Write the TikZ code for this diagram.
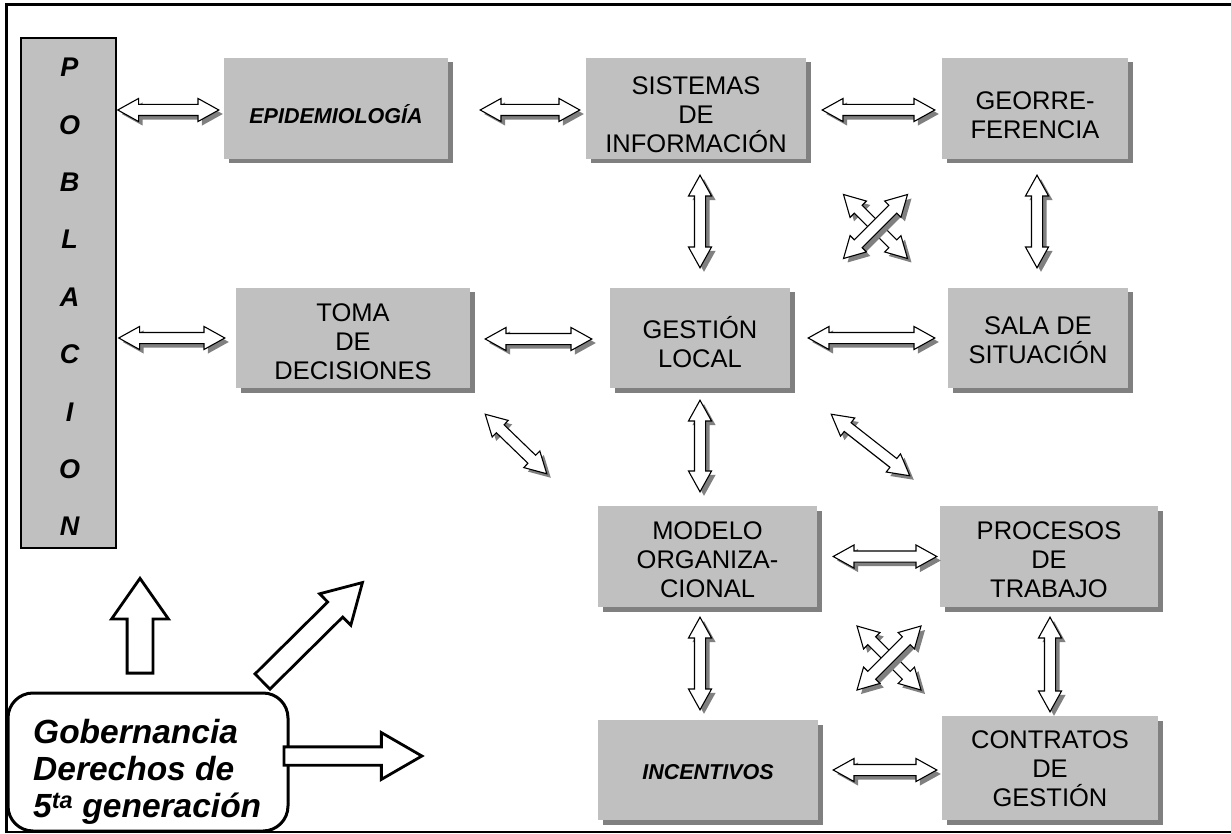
\documentclass[tikz,border=0pt]{standalone}
\usepackage{fontspec}
\setmainfont{Liberation Sans}
\usetikzlibrary{shapes.arrows,shadows,calc}
\definecolor{boxgray}{HTML}{C0C0C0}
\definecolor{shadowgray}{HTML}{808080}
\tikzset{
  box/.style={fill=boxgray, inner sep=0pt,
    drop shadow={shadow xshift=4.5pt, shadow yshift=-4.5pt, fill=shadowgray, opacity=1}},
  btext/.style={align=center, inner sep=0pt, font=\fontsize{25.5}{29}\selectfont},
  bitext/.style={btext, font=\fontsize{21.5}{26}\selectfont\bfseries\itshape},
  dblarrow/.style={double arrow, draw=black, line width=1.1pt, fill=white,
    inner xsep=0pt, inner ysep=5pt, minimum width=22pt,
    double arrow head extend=6pt, double arrow tip angle=58,
    double arrow head indent=0pt},
  dblshadow/.style={dblarrow, draw=none, fill=shadowgray},
  bigarrow/.style={single arrow, draw=black, line width=2.8pt, fill=white,
    inner xsep=0pt, single arrow head indent=0pt, anchor=tail},
  frameline/.style={line width=3pt},
}
\newcommand\dbl[2]{%
  \path let \p1=(#1), \p2=(#2),
     \n1={atan2(\y2-\y1,\x2-\x1)}, \n2={veclen(\x2-\x1,\y2-\y1)} in
    node[dblshadow, minimum height=\n2, rotate=\n1] at ($(\p1)!0.5!(\p2)+(4pt,-4pt)$) {}
    node[dblarrow, minimum height=\n2, rotate=\n1] at ($(\p1)!0.5!(\p2)$) {};
}
\newcommand\bigarr[5]{%
  \path let \p1=(#1), \p2=(#2),
     \n1={atan2(\y2-\y1,\x2-\x1)}, \n2={veclen(\x2-\x1,\y2-\y1)} in
    node[bigarrow, minimum height=\n2, rotate=\n1, inner ysep=#3,
      single arrow head extend=#4, single arrow tip angle=#5] at (\p1) {};
}
\begin{document}
\begin{tikzpicture}[x=1pt,y=-1pt]
\useasboundingbox (0,0) rectangle (1231,834);
\fill[white] (0,0) rectangle (1231,834);
% frame
\draw[frameline] (6.5,833) -- (6.5,4.5) -- (1235,4.5);
\draw[line width=1.5pt] (6.5,832) -- (1235,832);
% boxes
\node[fill=boxgray, draw=black, line width=1.5pt, minimum width=95pt, minimum height=510pt,
  inner sep=0pt] (pob) at (68.5,293) {};
\node[align=center, inner sep=0pt, font=\fontsize{27}{57.4}\selectfont\bfseries\itshape]
  (pob-t) at ($(pob)+(1,4)$) {P\\O\\B\\L\\A\\C\\I\\O\\N};
\node[box, minimum width=224pt, minimum height=101pt] (epi) at (336,108.5) {};
\node[box, minimum width=220pt, minimum height=101pt] (sis) at (696,108.5) {};
\node[box, minimum width=186pt, minimum height=101pt] (geo) at (1035,108.5) {};
\node[box, minimum width=234pt, minimum height=100pt] (toma) at (353,338) {};
\node[box, minimum width=180pt, minimum height=100pt] (gest) at (700,338) {};
\node[box, minimum width=180pt, minimum height=100pt] (sala) at (1038,338) {};
\node[box, minimum width=219pt, minimum height=101pt] (mod) at (707.5,556.5) {};
\node[box, minimum width=218pt, minimum height=101pt] (proc) at (1049,556.5) {};
\node[box, minimum width=220pt, minimum height=100pt] (inc) at (708,770) {};
\node[box, minimum width=216pt, minimum height=104pt] (con) at (1050,768) {};
\node[bitext] (epi-t) at ($(epi)+(0,6)$) {EPIDEMIOLOGÍA};
\node[btext] (sis-t) at ($(sis)+(0,6)$) {SISTEMAS\\DE\\INFORMACIÓN};
\node[btext] (geo-t) at ($(geo)+(0,6.5)$) {GEORRE-\\FERENCIA};
\node[btext] (toma-t) at ($(toma)+(0,4)$) {TOMA\\DE\\DECISIONES};
\node[btext] (gest-t) at ($(gest)+(0,4)$) {GESTIÓN\\LOCAL};
\node[btext] (sala-t) at ($(sala)+(0,2.5)$) {SALA DE\\SITUACIÓN};
\node[btext] (mod-t) at ($(mod)+(0,3.5)$) {MODELO\\ORGANIZA-\\CIONAL};
\node[btext] (proc-t) at ($(proc)+(0,3.5)$) {PROCESOS\\DE\\TRABAJO};
\node[bitext] (inc-t) at ($(inc)+(0,2)$) {INCENTIVOS};
\node[btext] (con-t) at ($(con)+(0,1)$) {CONTRATOS\\DE\\GESTIÓN};
% gobernancia
\node[draw=black, line width=3pt, rounded corners=25pt, fill=white, minimum width=280pt,
  minimum height=138pt, inner sep=0pt] (gob) at (148,762) {};
\node[anchor=west, inner sep=0pt, align=left, font=\fontsize{33.5}{37}\selectfont\bfseries\itshape]
  (gob-t) at (33,771.5) {Gobernancia\\Derechos de\\5\textsuperscript{ta} generación};
% double arrows
\coordinate (x1) at ($(sis.south east)!0.5!(sala.north west)+(-1.5,3)$);
\coordinate (x2) at ($(mod.south east)!0.5!(con.north west)+(9.5,-3.5)$);
\dbl{$(pob.east|-epi.west)+(1,1.5)$}{$(epi.west)+(-5,1.5)$}
\dbl{$(epi.east)+(32,1.5)$}{$(sis.west)+(-6,1.5)$}
\dbl{$(sis.east)+(16,1.5)$}{$(geo.west)+(-7,1.5)$}
\dbl{$(pob.east|-toma.west)+(2,0)$}{$(toma.west)+(-11,0)$}
\dbl{$(toma.east)+(15,1)$}{$(gest.west)+(-18,1)$}
\dbl{$(gest.east)+(18,0)$}{$(sala.west)+(-13,0)$}
\dbl{$(mod.east)+(16,0)$}{$(proc.west)+(-3,0)$}
\dbl{$(inc.east)+(15,0)$}{$(con.west)+(-5,2)$}
\dbl{$(sis.south-|gest.north)+(0,16)$}{$(gest.north)+(0,-20)$}
\dbl{$(geo.south)+(2,16)$}{$(sala.north)+(-1,-20)$}
\dbl{$(gest.south)+(0,12)$}{$(gest.south|-mod.north)+(0,-14)$}
\dbl{$(gest.south|-mod.south)+(0,10)$}{$(gest.south|-inc.north)+(0,-10)$}
\dbl{$(proc.south)+(1,10)$}{$(con.north)+(0,-4)$}
\dbl{$(toma.south east)+(15,26)$}{$(mod.north west)+(-51,-32)$}
\dbl{$(gest.south east)+(41,26)$}{$(proc.north west)+(-30,-30)$}
\dbl{$(x1)+(-32,-32)$}{$(x1)+(32,32)$}
\dbl{$(x1)+(-32,32)$}{$(x1)+(32,-32)$}
\dbl{$(x2)+(-32,-32)$}{$(x2)+(32,32)$}
\dbl{$(x2)+(-32,32)$}{$(x2)+(32,-32)$}
% big arrows from gobernancia
\bigarr{$(gob.north-|140,0)+(0,-17)$}{$(pob.south-|140,0)+(0,31)$}{11.5pt}{15.5pt}{70}
\bigarr{$(gob.east|-gob-t.west)+(-7,-15.5)$}{$(gob.east|-gob-t.west)+(131,-15.5)$}{7.75pt}{14.25pt}{60}
\bigarr{$(gob.north east)+(-28,-9)$}{$(gob.north east)+(72,-108)$}{9.25pt}{11.5pt}{60}
\end{tikzpicture}
\end{document}
